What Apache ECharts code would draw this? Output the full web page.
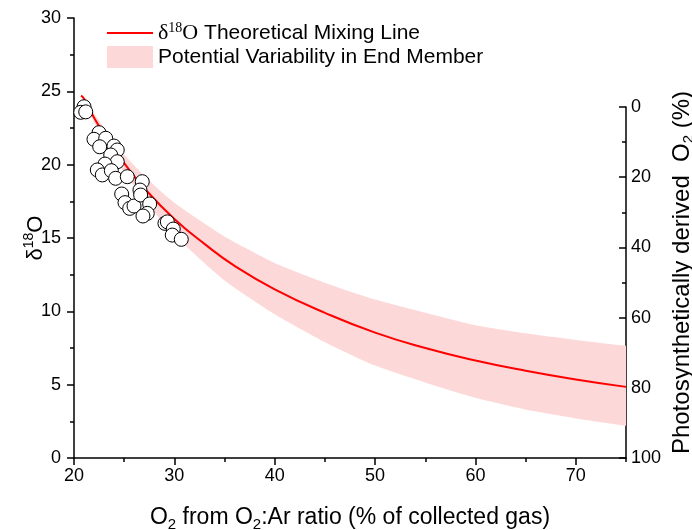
<!DOCTYPE html>
<html><head><meta charset="utf-8">
<script src="https://cdn.jsdelivr.net/npm/echarts@6/dist/echarts.min.js"></script>
<style>html,body{margin:0;padding:0;background:#fff}#c{width:692px;height:530px}</style>
</head><body><div id="c"></div>
<script>
// Theoretical mixing line (x: O2 %, y: δ18O)
const mixX = [20.7, 21, 22, 23, 24, 25, 27, 30, 33, 36, 40, 45, 50, 55, 60, 65, 70, 75];
const mixY = [24.7, 24.5, 23.2, 22.1, 21.1, 20.1, 18.4, 16.3, 14.6, 13.1, 11.5, 9.9, 8.55, 7.5, 6.65, 5.95, 5.35, 4.85];
// Potential variability band
const bandX     = [20.9, 22, 23, 25, 27.5, 30, 35, 40, 45, 50, 55, 60, 65, 70, 75];
const bandUpper = [24.6, 23.5, 22.5, 20.7, 18.9, 17.4, 15.1, 13.3, 11.95, 10.8, 9.9, 9.05, 8.5, 8.05, 7.65];
const bandLower = [24.6, 22.9, 21.6, 19.5, 17.2, 15.2, 12.1, 9.8, 7.9, 6.3, 5.15, 4.1, 3.3, 2.7, 2.2];
// Observations
const obsX = [21.0, 20.67, 21.17, 22.49, 21.99, 23.16, 22.56, 23.98, 24.31, 23.66, 24.31, 23.09, 22.32, 22.82, 23.72, 24.15, 25.31, 26.8, 26.57, 24.75, 25.08, 25.55, 25.98, 26.64, 27.54, 27.3, 26.87, 29.06, 29.3, 29.89, 29.79, 30.69];
const obsY = [23.95, 23.57, 23.6, 22.18, 21.73, 21.8, 21.22, 21.27, 21.0, 20.66, 20.2, 20.04, 19.64, 19.3, 19.59, 19.07, 19.18, 18.84, 18.27, 18.0, 17.41, 17.02, 17.18, 17.93, 17.32, 16.68, 16.5, 16.0, 16.1, 15.61, 15.2, 14.91];
// Axis ticks
const xTicks = {min: 20, max: 75, major: 10, minor: 5};
const yLeftTicks = {min: 0, max: 30, major: 5};
const yRightTicks = {min: 0, max: 100, major: 20};

const FONT = '"Liberation Sans", Arial, sans-serif';
const SERIF = '"Liberation Serif", "Times New Roman", serif';
const PINK = '#fdd8d9';
const AX = {color: '#000', width: 1.5};
const LINE_ICON = 'path://M0,0 L0.01,0 L0.01,0.01 Z M0,10 L46,10 L46,12 L0,12 Z M0,22 L0.01,22 L0.01,21.99 Z';

const chart = echarts.init(document.getElementById('c'), null, {renderer: 'canvas'});
const labelStyle = {color: '#000', fontSize: 18, fontFamily: FONT};
function titleRich(size) {
  return {
    t: {fontFamily: FONT, fontSize: size, color: '#000', lineHeight: 28, verticalAlign: 'middle'},
    sub: {fontFamily: FONT, fontSize: Math.round(size * 0.64), color: '#000', lineHeight: 28, verticalAlign: 'bottom'},
    sup: {fontFamily: FONT, fontSize: Math.round(size * 0.64), color: '#000', lineHeight: 28, verticalAlign: 'top'}
  };
}
const option = {
  animation: false,
  backgroundColor: '#fff',
  textStyle: {fontFamily: FONT},
  grid: [
    {left: 74, right: 66, top: 18, bottom: 72, outerBoundsMode: 'none', containLabel: false},
    {left: 74, right: 66, top: 107, bottom: 72, outerBoundsMode: 'none', containLabel: false}
  ],
  legend: {
    orient: 'vertical', left: 107, top: 21, padding: 0,
    itemWidth: 46, itemHeight: 22, itemGap: 2,
    data: [{name: 'mix', icon: LINE_ICON, itemStyle: {color: '#ff0000'}}, {name: 'band', icon: 'rect'}],
    formatter: function (n) {
      return n === 'mix'
        ? '{d|δ}{sup|18}{d|O}{t| Theoretical Mixing Line}'
        : '{t|Potential Variability in End Member}';
    },
    textStyle: {
      color: '#000', fontSize: 21, fontFamily: FONT,
      rich: {
        d: {fontFamily: SERIF, fontSize: 22, color: '#000', lineHeight: 24, verticalAlign: 'middle'},
        sup: {fontFamily: SERIF, fontSize: 14, color: '#000', lineHeight: 24, verticalAlign: 'top'},
        t: {fontFamily: FONT, fontSize: 21, color: '#000', lineHeight: 24, verticalAlign: 'middle'}
      }
    }
  },
  xAxis: [
    {
      gridIndex: 0, type: 'value', min: xTicks.min, max: xTicks.max, interval: xTicks.major,
      axisLine: {show: true, onZero: false, lineStyle: AX},
      axisTick: {show: true, length: 7, lineStyle: AX},
      axisLabel: Object.assign({margin: 9, showMaxLabel: false}, labelStyle),
      splitLine: {show: false},
      name: '{t|O}{sub|2}{t| from O}{sub|2}{t|:Ar ratio (% of collected gas)}',
      nameLocation: 'middle', nameGap: 46, nameMoveOverlap: false,
      nameTextStyle: {rich: titleRich(23)}
    },
    {
      gridIndex: 0, type: 'value', position: 'bottom', min: xTicks.min, max: xTicks.max, interval: xTicks.minor,
      axisLine: {show: false}, axisTick: {show: true, length: 4, lineStyle: AX},
      axisLabel: {show: false}, splitLine: {show: false}
    },
    {gridIndex: 1, type: 'value', min: xTicks.min, max: xTicks.max, show: false}
  ],
  yAxis: [
    {
      gridIndex: 0, type: 'value', position: 'left', min: yLeftTicks.min, max: yLeftTicks.max, interval: yLeftTicks.major,
      axisLine: {show: true, onZero: false, lineStyle: AX},
      axisTick: {show: true, length: 7, lineStyle: AX},
      minorTick: {show: true, splitNumber: 2, length: 4, lineStyle: AX},
      axisLabel: Object.assign({margin: 13}, labelStyle),
      splitLine: {show: false}, minorSplitLine: {show: false},
      name: '{t|δ}{sup|18}{t|O}', nameLocation: 'middle', nameGap: 24, nameRotate: 90, nameMoveOverlap: false,
      nameTextStyle: {rich: titleRich(22)}
    },
    {
      gridIndex: 1, type: 'value', position: 'right', inverse: true,
      min: yRightTicks.min, max: yRightTicks.max, interval: yRightTicks.major,
      axisLine: {show: true, onZero: false, lineStyle: AX},
      axisTick: {show: true, inside: true, length: 7, lineStyle: AX},
      minorTick: {show: true, splitNumber: 2, length: 4, lineStyle: AX},
      axisLabel: Object.assign({margin: 5}, labelStyle),
      splitLine: {show: false}, minorSplitLine: {show: false},
      name: '{t|Photosynthetically derived  O}{sub|2}{t| (%)}',
      nameLocation: 'middle', nameGap: 42, nameRotate: 90, nameMoveOverlap: false,
      nameTextStyle: {padding: [0, 0, 0, 20], rich: titleRich(24)}
    }
  ],
  series: [
    {
      name: 'band', type: 'custom', xAxisIndex: 0, yAxisIndex: 0, silent: true,
      itemStyle: {color: PINK},
      data: [[bandX[0], bandUpper[0]]],
      renderItem: function (params, api) {
        const n = bandX.length;
        const pts = [];
        for (let i = 0; i < n; i++) pts.push(api.coord([bandX[i], bandUpper[i]]));
        // repeat the end vertex so the smoothed outline keeps a square right edge
        pts.push(api.coord([bandX[n - 1], bandUpper[n - 1]]));
        pts.push(api.coord([bandX[n - 1], bandLower[n - 1]]));
        for (let i = n - 1; i >= 0; i--) pts.push(api.coord([bandX[i], bandLower[i]]));
        const cs = params.coordSys;
        return {
          type: 'group',
          clipPath: {type: 'rect', shape: {x: cs.x, y: cs.y, width: cs.width, height: cs.height}},
          children: [{
            type: 'polygon',
            shape: {points: pts, smooth: 0.2},
            style: {fill: PINK}
          }]
        };
      },
      z: 2
    },
    {
      name: 'mix', type: 'line', xAxisIndex: 0, yAxisIndex: 0, smooth: true, symbol: 'none', showSymbol: false,
      lineStyle: {color: '#ff0000', width: 2}, itemStyle: {color: '#ff0000'},
      data: mixX.map((x, i) => [x, mixY[i]]), z: 3
    },
    {
      name: 'obs', type: 'scatter', xAxisIndex: 0, yAxisIndex: 0, symbol: 'circle', symbolSize: 14,
      itemStyle: {color: '#fff', borderColor: '#000', borderWidth: 1, opacity: 1},
      data: obsX.map((x, i) => [x, obsY[i]]), z: 5
    }
  ]
};
chart.setOption(option);
</script></body></html>
